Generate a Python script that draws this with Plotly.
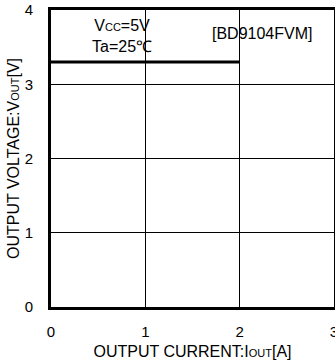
import plotly.graph_objects as go

iout = [0, 2]
vout = [3.3, 3.3]
x_ticks = [0, 1, 2, 3]
y_ticks = [0, 1, 2, 3, 4]

FONT = "Liberation Sans, Arial, sans-serif"

fig = go.Figure()
fig.add_trace(go.Scatter(x=iout, y=vout, mode="lines",
                         line=dict(color="black", width=3), showlegend=False,
                         hoverinfo="skip"))

fig.update_layout(
    width=335, height=363,
    margin=dict(l=51, r=1, t=10, b=56),
    paper_bgcolor="white", plot_bgcolor="white",
    font=dict(family=FONT, size=15, color="black"),
    xaxis=dict(range=[0, 3], tickvals=x_ticks, showgrid=True, gridcolor="black", gridwidth=1,
               showline=True, linecolor="black", linewidth=3, mirror=True, zeroline=False,
               ticks="", ticklabelstandoff=9, automargin=False, ticklabeloverflow="allow",
               title=dict(text="OUTPUT CURRENT:I<span style='font-size:11px'>OUT</span>[A]",
                          font=dict(size=16), standoff=7)),
    yaxis=dict(range=[0, 4], tickvals=y_ticks, showgrid=True, gridcolor="black", gridwidth=1,
               showline=True, linecolor="black", linewidth=3, mirror=True, zeroline=False,
               ticks="", ticklabelstandoff=12, automargin=False, ticklabeloverflow="allow",
               title=dict(text="OUTPUT VOLTAGE:V<span style='font-size:11px'>OUT</span>[V]",
                          font=dict(size=16), standoff=2)),
    annotations=[
        dict(x=0.75, y=3.65, xref="x", yref="y", showarrow=False, align="center",
             text="V<span style='font-size:11px'>CC</span>=5V<br>Ta=25℃",
             font=dict(size=16)),
        dict(x=2.24, y=3.68, xref="x", yref="y", showarrow=False,
             text="[BD9104FVM]", font=dict(size=16)),
    ],
)

fig.write_html("out.html", config={"displayModeBar": False},
               post_script="document.body.style.margin='0';document.body.style.overflow='hidden';")
